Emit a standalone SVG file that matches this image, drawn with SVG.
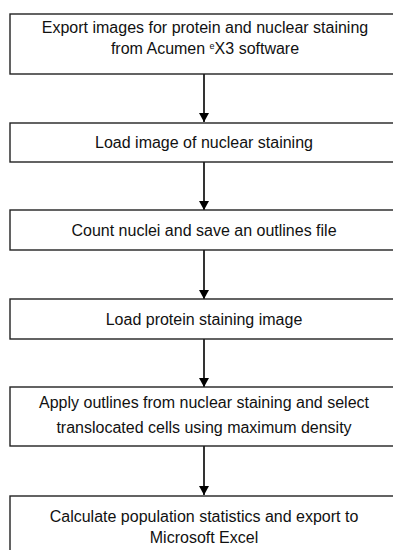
<svg xmlns="http://www.w3.org/2000/svg" width="393" height="550" viewBox="0 0 393 550">
<defs>
<style>
.box{fill:#fff;stroke:#222;stroke-width:1.4}
.t{font-family:"Liberation Sans",Arial,sans-serif;font-size:16px;fill:#111;text-anchor:middle}
.c{stroke:#000;stroke-width:1.6;fill:none}
</style>
<marker id="ah" markerWidth="9" markerHeight="10" refX="9" refY="5" orient="auto" markerUnits="userSpaceOnUse" viewBox="0 0 9 10">
<path d="M0,0 L9,5 L0,10 z" fill="#000"/>
</marker>
</defs>
<rect width="393" height="550" fill="#fff"/>
<g id="connectors">
<line class="c" x1="204" y1="74" x2="204" y2="122" marker-end="url(#ah)"/>
<line class="c" x1="204" y1="162" x2="204" y2="210" marker-end="url(#ah)"/>
<line class="c" x1="204" y1="250" x2="204" y2="299" marker-end="url(#ah)"/>
<line class="c" x1="204" y1="339" x2="204" y2="387" marker-end="url(#ah)"/>
<line class="c" x1="204" y1="446" x2="204" y2="495" marker-end="url(#ah)"/>
</g>
<g id="n1"><rect class="box" x="10" y="14" width="390" height="60"/>
<text class="t" x="205" y="33">Export images for protein and nuclear staining</text>
<text class="t" x="205" y="54">from Acumen <tspan font-size="9" dy="-5">e</tspan><tspan dy="5">X3 software</tspan></text></g>
<g id="n2"><rect class="box" x="10" y="123" width="390" height="39"/>
<text class="t" x="204" y="148">Load image of nuclear staining</text></g>
<g id="n3"><rect class="box" x="10" y="210" width="390" height="40"/>
<text class="t" x="204" y="236">Count nuclei and save an outlines file</text></g>
<g id="n4"><rect class="box" x="10" y="299" width="390" height="40"/>
<text class="t" x="204" y="325">Load protein staining image</text></g>
<g id="n5"><rect class="box" x="10" y="387" width="390" height="59"/>
<text class="t" x="204" y="408">Apply outlines from nuclear staining and select</text>
<text class="t" x="204" y="433">translocated cells using maximum density</text></g>
<g id="n6"><rect class="box" x="10" y="496" width="390" height="70"/>
<text class="t" x="204" y="522">Calculate population statistics and export to</text>
<text class="t" x="204" y="543">Microsoft Excel</text></g>
</svg>
